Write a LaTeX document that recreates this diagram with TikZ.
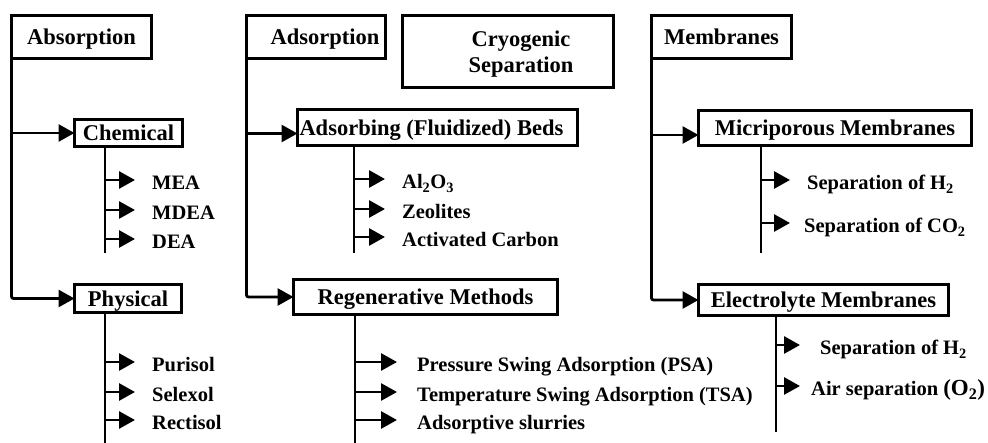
\documentclass[tikz,border=0pt]{standalone}
\usepackage{fontspec}
\setmainfont{Liberation Serif}
\usetikzlibrary{arrows.meta, positioning, calc}

\begin{document}
\begin{tikzpicture}[
        x=1pt, y=-1pt,
        group/.style={rectangle, draw=black, line width=3pt, fill=none, minimum width=#1, minimum height=43pt, outer sep=0pt, inner sep=1pt, text depth=0pt, align=center, font=\fontsize{22.5}{26}\selectfont\bfseries},
        method/.style={rectangle, draw=black, line width=3pt, fill=none, minimum width=#1, outer sep=0pt, inner sep=1pt, text depth=0pt, font=\fontsize{22.5}{26}\selectfont\bfseries},
        item/.style={anchor=west, inner sep=0pt, text height=20pt, text depth=0pt, font=\fontsize{20.5}{24}\selectfont\bfseries},
        spine/.style={draw=black, line width=2.8pt},
        arrow/.style={-{Triangle[length=16pt, width=17pt]}, draw=black, line width=2.8pt, shorten >=#1},
        arrow/.default=17pt
    ]
        \useasboundingbox (0,0) rectangle (988,443);

        \node[group=140pt] (absorp) at (81.5,37) {Absorption};
        \node[group=139pt] (adsorp) at (316,37) {\hspace*{18pt}Adsorption};
        \node[group=211pt, minimum height=72pt] (cryo) at (508,51.5) {\hspace*{26pt}Cryogenic\\\hspace*{26pt}Separation};
        \node[group=140pt] (membr) at (721.5,37) {Membranes};

        \node[method=108pt, minimum height=27pt] (chem) at (128.5,133) {Chemical};
        \node[method=107pt, minimum height=28pt] (phys) at (128,298.5) {Physical};
        \node[method=280pt, minimum height=36pt, text width=276pt, align=flush left] (beds) at (437.5,127.5) {Adsorbing (Fluidized) Beds};
        \node[method=264pt, minimum height=35pt] (regen) at (425.5,297) {Regenerative Methods};
        \node[method=273pt, minimum height=35pt] (micro) at (835,128) {Micriporous Membranes};
        \node[method=250pt, minimum height=31pt] (electro) at (823.5,300) {Electrolyte Membranes};

        \coordinate (bedsin) at ([yshift=-6pt]beds.west);
        \coordinate (microin) at ([yshift=-7pt]micro.west);

        \draw[arrow=0pt] (absorp.south west |- chem.west) -- (chem.west);
        \draw[arrow=0pt, rounded corners=2pt] (absorp.south west) |- (phys.west);
        \draw[arrow=0pt] (adsorp.south west |- bedsin) -- (bedsin);
        \draw[arrow=0pt, rounded corners=2pt] (adsorp.south west) |- (regen.west);
        \draw[arrow=0pt] (membr.south west |- microin) -- (microin);
        \draw[arrow=0pt, rounded corners=2pt] (membr.south west) |- (electro.west);

        \coordinate (chemtop) at (105,147);
        \coordinate (chemend) at (105,253);
        \coordinate (phystop) at (105,313);
        \coordinate (physend) at (105,443);
        \coordinate (bedstop) at (354,146);
        \coordinate (bedsend) at (354,253);
        \coordinate (regentop) at (355,315);
        \coordinate (regenend) at (355,443);
        \coordinate (microtop) at (761,146);
        \coordinate (microend) at (761,253);
        \coordinate (electrotop) at (776,316);
        \coordinate (electroend) at (776,432);

        \draw[spine] (chemtop) -- (chemend);
        \draw[spine] (phystop) -- (physend);
        \draw[spine] (bedstop) -- (bedsend);
        \draw[spine] (regentop) -- (regenend);
        \draw[spine] (microtop) -- (microend);
        \draw[spine] (electrotop) -- (electroend);

        \node[item] (mea) at (152,180) {MEA};
        \node[item] (mdea) at (152,210) {MDEA};
        \node[item] (dea) at (152,239) {DEA};
        \draw[arrow] (chemtop |- mea.west) -- (mea.west);
        \draw[arrow] (chemtop |- mdea.west) -- (mdea.west);
        \draw[arrow] (chemtop |- dea.west) -- (dea.west);

        \node[item] (purisol) at (152,362) {Purisol};
        \node[item] (selexol) at (152,392) {Selexol};
        \node[item] (rectisol) at (152,420) {Rectisol};
        \draw[arrow] (phystop |- purisol.west) -- (purisol.west);
        \draw[arrow] (phystop |- selexol.west) -- (selexol.west);
        \draw[arrow] (phystop |- rectisol.west) -- (rectisol.west);

        \node[item] (alumina) at (402,179) {Al\textsubscript{2}O\textsubscript{3}};
        \node[item] (zeolite) at (402,209) {Zeolites};
        \node[item] (carbon) at (402,237) {Activated Carbon};
        \draw[arrow] (bedstop |- alumina.west) -- (alumina.west);
        \draw[arrow] (bedstop |- zeolite.west) -- (zeolite.west);
        \draw[arrow] (bedstop |- carbon.west) -- (carbon.west);

        \node[item] (psa) at (417,362) {Pressure Swing Adsorption (PSA)};
        \node[item] (tsa) at (417,392) {Temperature Swing Adsorption (TSA)};
        \node[item] (slurry) at (417,420) {Adsorptive slurries};
        \draw[arrow=20pt] (regentop |- psa.west) -- (psa.west);
        \draw[arrow=20pt] (regentop |- tsa.west) -- (tsa.west);
        \draw[arrow=20pt] (regentop |- slurry.west) -- (slurry.west);

        \node[item] (microh) at (807,180) {Separation of H\textsubscript{2}};
        \node[item] (microco) at (804,223) {Separation of CO\textsubscript{2}};
        \draw[arrow] (microtop |- microh.west) -- (microh.west);
        \draw[arrow=14pt] (microtop |- microco.west) -- (microco.west);

        \node[item] (electroh) at (820,345) {Separation of H\textsubscript{2}};
        \node[item] (electroair) at (811,386) {Air separation {\fontsize{23}{24}\selectfont(O\textsubscript{2})}};
        \draw[arrow=20pt] (electrotop |- electroh.west) -- (electroh.west);
        \draw[arrow=11pt] (electrotop |- electroair.west) -- (electroair.west);
    \end{tikzpicture}
\end{document}
